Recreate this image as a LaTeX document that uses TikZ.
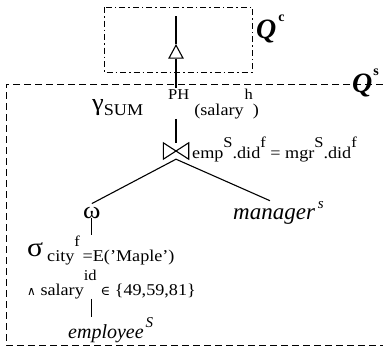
\documentclass[tikz,border=0pt]{standalone}
\usepackage{fontspec}
\setmainfont[FakeStretch=1.1]{Liberation Serif}
\newfontfamily\relfont{Liberation Serif}
\newfontfamily\opfont{DejaVu Serif}
\usetikzlibrary{shapes.geometric, positioning, calc}
\newcommand{\suptx}[1]{\raisebox{11pt}{\fontsize{15}{16}\selectfont #1}}
\newcommand{\subtx}[1]{\raisebox{-5pt}{#1}}

\begin{document}
\begin{tikzpicture}[
  x=1pt, y=-1pt,
  txt/.style={inner sep=0pt, anchor=base west, font=\fontsize{16.5}{18}\selectfont},
  rel/.style={inner sep=0pt, anchor=base west, font=\relfont\fontsize{20}{22}\selectfont\itshape},
  grk/.style={inner sep=0pt, anchor=base west, font=\fontsize{24}{24}\selectfont},
  qlbl/.style={inner sep=0pt, anchor=base west, font=\relfont\fontsize{28}{28}\selectfont\bfseries\itshape},
  edge/.style={line width=1.1pt},
  frame/.style={line width=0.9pt}
]
  \useasboundingbox (0,0) rectangle (383,351);

  % Client part
  \draw[frame, dash pattern=on 6pt off 3pt on 1.5pt off 3pt] (104,7) rectangle (252,72);
  \node[qlbl] (qc) at (256,38) {Q\hspace{2pt}\raisebox{17pt}{\fontsize{14}{15}\selectfont\bfseries\upshape c}};
  \coordinate (out) at (176,16);
  \node[draw, edge, isosceles triangle, shape border rotate=90, isosceles triangle stretches,
    minimum width=14pt, minimum height=13pt, inner sep=0pt] (delta) at (176,54) {};

  % Server part
  \draw[frame, dash pattern=on 7pt off 4pt] (383,84) -- (6,84) -- (6,345) -- (383,345);
  \node[qlbl] (qs) at (352,92) {Q\hspace{1pt}\raisebox{17pt}{\fontsize{14}{15}\selectfont\bfseries\upshape s}};

  % Aggregation
  \node[txt] (gamma) at (92,110)
    {{\fontsize{24}{24}\selectfont γ}\subtx{SUM}\hspace{25pt}\suptx{PH}\hspace{5pt}\subtx{(salary}\hspace{1pt}\suptx{h}\subtx{)}};

  % Join
  \node[minimum width=25pt, minimum height=16pt, inner sep=0pt] (join) at (176,151) {};
  \draw[edge] (join.north west) -- (join.south west) -- (join.north east)
    -- (join.south east) -- cycle;
  \node[txt] (jcond) at (192,158)
    {emp\suptx{S}.did\suptx{f} = mgr\suptx{S}.did\suptx{f}};

  % Left branch
  \node[grk] (omega) at (83,218) {ω};
  \node[rel, font=\relfont\fontsize{23}{24}\selectfont\itshape] (manager) at (233,219) {manager\hspace{3pt}\suptx{s}};

  % Selection
  \node[grk, font=\fontsize{27}{27}\selectfont] (sigma) at (27,256) {σ};
  \node[txt] (cond1) at (47,261) {city\raisebox{15pt}{\fontsize{15}{16}\selectfont f}\,=E(’Maple’)};
  \node[txt] (cond2) at (27,295)
    {{\opfont\fontsize{12}{13}\selectfont ∧} salary\raisebox{15pt}{\fontsize{15}{16}\selectfont id}\hspace{4pt}{\opfont\fontsize{13}{14}\selectfont ∈} \{49,59,81\}};
  \node[rel] (employee) at (68,338) {employee\hspace{2pt}\suptx{S}};

  % Edges
  \draw[edge] (out) -- (delta.apex);
  \draw[edge] (delta.south) -- (delta.south |- gamma.north);
  \draw[edge] (delta.south |- gamma.south) -- (join.north);
  \draw[edge] (join.south) -- ($(omega.north)+(0,-3)$);
  \draw[edge] (join.south) -- ($(manager.north west)+(37,0)$);
  \draw[edge] (omega.south) -- (omega.south |- cond1.north);
  \draw[edge] (omega.south |- cond2.south) -- (omega.south |- employee.north);
\end{tikzpicture}
\end{document}
